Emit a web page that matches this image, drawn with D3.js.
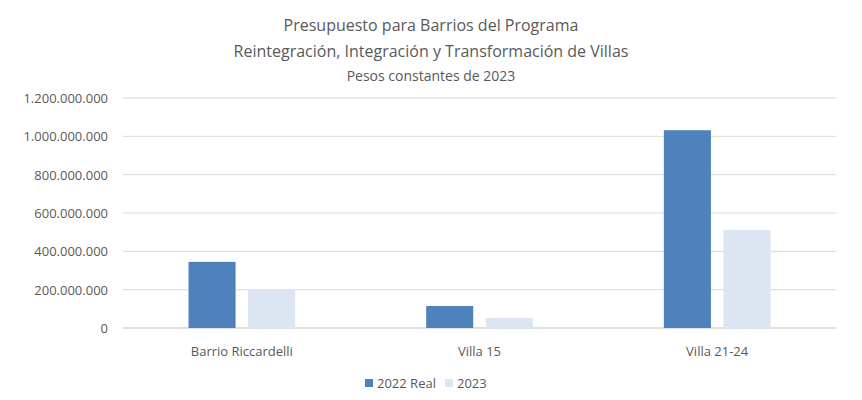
<!DOCTYPE html>
<html><head><meta charset="utf-8">
<script src="https://cdn.jsdelivr.net/npm/d3@7"></script>
<style>body{margin:0;background:#fff}text{font-family:"Open Sans","Liberation Sans",sans-serif;fill:#595959}</style>
</head><body><div id="chart"></div>
<script>
const categories = ["Barrio Riccardelli", "Villa 15", "Villa 21-24"]
const series = ["2022 Real", "2023"]
const real2022 = [345000000, 115000000, 1032000000]
const val2023 = [203000000, 52000000, 511000000]
const yTicks = [0, 200000000, 400000000, 600000000, 800000000, 1000000000, 1200000000]
const titleLines = ["Presupuesto para Barrios del Programa", "Reintegración, Integración y Transformación de Villas", "Pesos constantes de 2023"]

var width = 862, height = 400
var margin = {top: 98, right: 26, bottom: 72, left: 123}
var svg = d3.select("#chart").append("svg").attr("width", width).attr("height", height)

// title
svg.selectAll(".t").data(titleLines).enter().append("text")
  .attr("x", 431).attr("y", (d, i) => [31, 57, 81][i])
  .attr("text-anchor", "middle")
  .style("font-size", (d, i) => i < 2 ? "16px" : "14px")
  .text(d => d)

var x = d3.scaleBand().domain(categories).range([margin.left, width - margin.right])
var y = d3.scaleLinear().domain([0, 1200000000]).range([height - margin.bottom, margin.top])
var fmt = d => d3.format(",")(d).replace(/,/g, ".")

// gridlines + y labels
svg.append("g").selectAll("line").data(yTicks).enter().append("line")
  .attr("x1", margin.left).attr("x2", width - margin.right)
  .attr("y1", d => y(d)).attr("y2", d => y(d))
  .attr("stroke", d => d === 0 ? "#bfbfbf" : "#d9d9d9")
svg.append("g").selectAll("text").data(yTicks).enter().append("text")
  .attr("x", 108).attr("y", d => y(d) + 5).attr("text-anchor", "end")
  .style("font-size", "13px").text(fmt)

var xSub = d3.scaleBand().domain(series).range([0, x.bandwidth()]).paddingInner(0.21).paddingOuter(1.1)
var color = d3.scaleOrdinal().domain(series).range(["#4f81bd", "#dce6f2"])
var rows = categories.map((c, i) => ({c, vals: [real2022[i], val2023[i]]}))

svg.append("g").selectAll("g").data(rows).enter().append("g")
  .attr("transform", d => "translate(" + x(d.c) + ",0)")
  .selectAll("rect").data(d => d.vals.map((v, i) => ({k: series[i], v}))).enter().append("rect")
  .attr("x", d => xSub(d.k)).attr("width", xSub.bandwidth())
  .attr("y", d => y(d.v)).attr("height", d => y(0) - y(d.v))
  .attr("fill", d => color(d.k))

svg.append("g").selectAll("text").data(categories).enter().append("text")
  .attr("x", d => x(d) + x.bandwidth() / 2).attr("y", 356).attr("text-anchor", "middle")
  .style("font-size", "13px").text(d => d)

// legend
var lg = svg.append("g").selectAll("g").data(series).enter().append("g")
  .attr("transform", (d, i) => "translate(" + [365, 445][i] + ",383)")
lg.append("rect").attr("x", 0).attr("y", -4).attr("width", 8).attr("height", 8).attr("fill", d => color(d))
lg.append("text").attr("x", 12).attr("y", 5).style("font-size", "13px").text(d => d)
</script></body></html>
